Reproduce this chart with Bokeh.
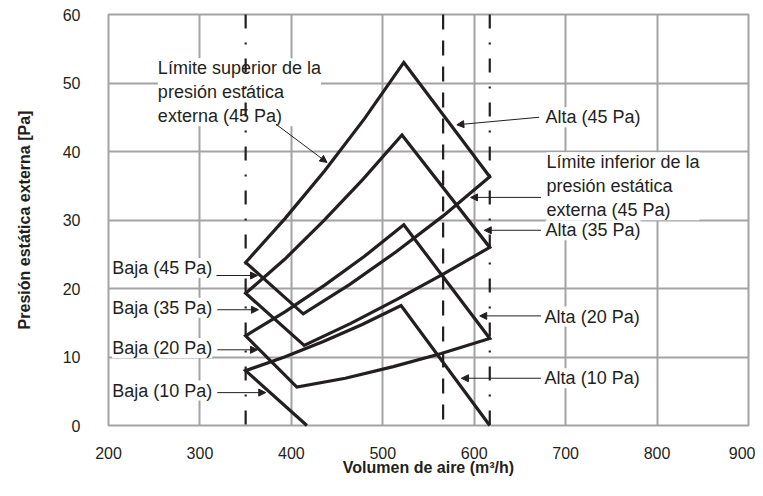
from bokeh.plotting import figure
from bokeh.models import Range1d, FixedTicker, Label, Arrow, NormalHead
from bokeh.embed import file_html
from bokeh.resources import INLINE

# ---------------- data ----------------
x_ticks = [200, 300, 400, 500, 600, 700, 800, 900]
y_ticks = [0, 10, 20, 30, 40, 50, 60]

# closed operating-range outlines
s45_x = [350, 393, 436.5, 480, 523, 617, 566, 515, 464, 413]
s45_y = [23.8, 30.2, 37.2, 44.8, 53.0, 36.3, 30.6, 25.4, 20.6, 16.3]
s35_x = [350, 393, 435.5, 478, 521, 617, 566, 515.5, 465, 414]
s35_y = [19.3, 24.3, 29.9, 35.9, 42.4, 26.0, 22.1, 18.4, 14.9, 11.7]
s20_x = [350, 393, 436.5, 480, 523, 617, 564, 511.5, 459, 406]
s20_y = [13.1, 16.6, 20.5, 24.7, 29.3, 12.7, 10.5, 8.6, 6.9, 5.6]
# 10 Pa range runs off the bottom of the chart
s10_x = [417, 350, 392.5, 435, 477.5, 520, 617]
s10_y = [0.0, 8.0, 10.0, 12.25, 14.75, 17.5, 0.0]

dashdot_x = [350, 617]
dashed_x = [566]

# labels: text, x, y, baseline
label_text = ["Límite superior de la\npresión estática\nexterna (45 Pa)",
              "Alta (45 Pa)",
              "Límite inferior de la\npresión estática\nexterna (45 Pa)",
              "Alta (35 Pa)", "Alta (20 Pa)", "Alta (10 Pa)",
              "Baja (45 Pa)", "Baja (35 Pa)", "Baja (20 Pa)", "Baja (10 Pa)"]
label_x = [254, 678, 679, 678, 677, 677, 204, 204, 204, 204]
label_y = [53.6, 45.0, 39.9, 28.5, 15.9, 6.9, 23.0, 17.2, 11.3, 5.1]
label_base = ["top", "middle", "top", "middle", "middle", "middle",
              "middle", "middle", "middle", "middle"]

# arrows: start -> end
arr_x0 = [383, 671, 673, 673, 673, 673, 318, 319, 319, 319]
arr_y0 = [44.0, 45.0, 33.3, 28.5, 16.0, 6.9, 21.9, 16.9, 11.05, 4.8]
arr_x1 = [439, 581, 596, 611, 606, 586, 363, 364, 363, 372]
arr_y1 = [38.4, 43.9, 33.3, 28.5, 16.0, 6.9, 21.9, 16.9, 11.05, 4.8]

INK = "#231f20"
GRID = "#a3a3a3"
FONT = "Liberation Sans"

# ---------------- figure ----------------
p = figure(width=755, height=486, output_backend="svg", toolbar_location=None,
           x_range=Range1d(200, 900), y_range=Range1d(0, 60),
           min_border_left=108, min_border_right=7,
           min_border_top=14, min_border_bottom=61)
p.background_fill_color = "white"
p.border_fill_color = "white"
p.outline_line_color = GRID
p.outline_line_width = 2

for ax in (p.xaxis, p.yaxis):
    ax.axis_line_color = None
    ax.major_tick_line_color = None
    ax.minor_tick_line_color = None
    ax.major_tick_out = 0
    ax.major_tick_in = 0
    ax.major_label_text_font = FONT
    ax.major_label_text_font_size = "16px"
    ax.major_label_text_color = INK
    ax.axis_label_text_font = FONT
    ax.axis_label_text_font_size = "16px"
    ax.axis_label_text_font_style = "bold"
    ax.axis_label_text_color = INK

p.xaxis.ticker = FixedTicker(ticks=x_ticks)
p.yaxis.ticker = FixedTicker(ticks=y_ticks)
p.xaxis.axis_label = "Volumen de aire (m³/h)"
p.yaxis.axis_label = "Presión estática externa [Pa]"
p.xaxis.major_label_standoff = 21
p.xaxis.axis_label_standoff = -3
p.yaxis.major_label_standoff = 28
p.yaxis.axis_label_standoff = 27

p.xgrid.ticker = FixedTicker(ticks=x_ticks)
p.ygrid.ticker = FixedTicker(ticks=y_ticks)
for g in (p.xgrid, p.ygrid):
    g.grid_line_color = GRID
    g.grid_line_width = 2

# labels with white boxes
for t, x, y, b in zip(label_text, label_x, label_y, label_base):
    p.add_layout(Label(x=x, y=y, text=t, text_font=FONT, text_font_size="18px",
                       text_color=INK, text_align="left", text_baseline=b,
                       background_fill_color="white", text_line_height=1.2))

# arrows
for x0, y0, x1, y1 in zip(arr_x0, arr_y0, arr_x1, arr_y1):
    p.add_layout(Arrow(x_start=x0, y_start=y0, x_end=x1, y_end=y1,
                       line_color=INK, line_width=1,
                       end=NormalHead(size=7, fill_color=INK, line_color=INK, line_width=1)))

# vertical limits
r = p.segment(x0=dashdot_x, y0=[60] * len(dashdot_x), x1=dashdot_x, y1=[0] * len(dashdot_x),
              line_color=INK, line_width=2.2, line_dash="14 14 2 14")
r.level = "overlay"
r = p.segment(x0=dashed_x, y0=[60] * len(dashed_x), x1=dashed_x, y1=[0] * len(dashed_x),
              line_color=INK, line_width=2.2, line_dash="15 11")
r.level = "overlay"

# ranges
r = p.patches(xs=[s45_x, s35_x, s20_x], ys=[s45_y, s35_y, s20_y],
              fill_color=None, line_color=INK, line_width=3.2, line_join="miter")
r.level = "overlay"
r = p.line(s10_x, s10_y, line_color=INK, line_width=3.2, line_join="miter")
r.level = "overlay"

open("out.html", "w").write(file_html(p, INLINE))
